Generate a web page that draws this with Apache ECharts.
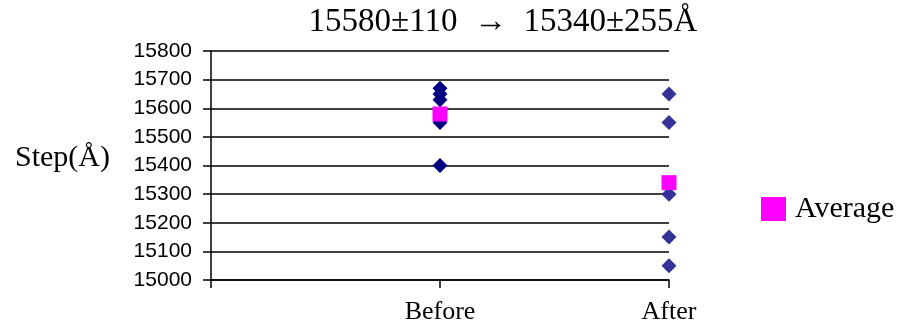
<!DOCTYPE html>
<html>
<head>
<meta charset="utf-8">
<script src="https://cdn.jsdelivr.net/npm/echarts@6/dist/echarts.min.js"></script>
<style>
  html, body { margin: 0; padding: 0; background: #fff; }
  #chart { width: 904px; height: 332px; }
</style>
</head>
<body>
<div id="chart"></div>
<script>
// Step heights measured before and after treatment, with their averages
const categories = ['Before', 'After'];
const beforeValues = [15670, 15650, 15630, 15550, 15400];
const afterValues = [15650, 15550, 15300, 15150, 15050];
const averageValues = [15580, 15340];
const yTicks = [15000, 15100, 15200, 15300, 15400, 15500, 15600, 15700, 15800];

const serif = '"Liberation Serif", "Times New Roman", serif';
const sans = '"Liberation Sans", Arial, sans-serif';

const chart = echarts.init(document.getElementById('chart'), null, { renderer: 'canvas' });

chart.setOption({
  animation: false,
  backgroundColor: '#ffffff',
  title: [
    {
      text: '15580\u00b1110  \u2192  15340\u00b1255\u00c5',
      left: 498,
      top: 1,
      textAlign: 'center',
      textStyle: { fontFamily: serif, fontSize: 33, fontWeight: 'normal', color: '#000' }
    },
    {
      text: 'Step(\u00c5)',
      left: 10,
      top: 138,
      textStyle: { fontFamily: serif, fontSize: 30, fontWeight: 'normal', color: '#000' }
    }
  ],
  legend: {
    data: ['Average'],
    left: 756,
    top: 189,
    icon: 'rect',
    itemWidth: 25,
    itemHeight: 24,
    itemGap: 14,
    textStyle: { fontFamily: serif, fontSize: 30, color: '#000', padding: [0, 0, 0, 4] }
  },
  grid: { left: 211, right: 235, top: 51, bottom: 52, containLabel: false },
  xAxis: {
    type: 'value',
    min: 0,
    max: categories.length,
    interval: 1,
    splitLine: { show: false },
    axisLine: { show: true, lineStyle: { color: '#000', width: 1.5 } },
    axisTick: { show: true, inside: false, length: 8, lineStyle: { color: '#000', width: 1.5 } },
    axisLabel: {
      margin: 19,
      fontFamily: serif,
      fontSize: 26,
      color: '#000',
      formatter: function (v) { return v >= 1 ? categories[v - 1] : ''; }
    }
  },
  yAxis: {
    type: 'value',
    min: yTicks[0],
    max: yTicks[yTicks.length - 1],
    interval: 100,
    axisLine: { show: true, lineStyle: { color: '#000', width: 1.5 } },
    axisTick: { show: true, inside: false, length: 8, lineStyle: { color: '#000', width: 1.5 } },
    splitLine: { show: true, lineStyle: { color: '#000', width: 1.5 } },
    axisLabel: {
      margin: 19,
      fontFamily: sans,
      fontSize: 21,
      color: '#000',
      formatter: function (v) { return String(v); }
    }
  },
  series: [
    {
      name: 'Before',
      type: 'scatter',
      symbol: 'diamond',
      symbolSize: 15,
      clip: false,
      itemStyle: { color: '#000080', opacity: 1 },
      data: beforeValues.map(function (v) { return [1, v]; })
    },
    {
      name: 'After',
      type: 'scatter',
      symbol: 'diamond',
      symbolSize: 15,
      clip: false,
      itemStyle: { color: '#333399', opacity: 1 },
      data: afterValues.map(function (v) { return [2, v]; })
    },
    {
      name: 'Average',
      type: 'scatter',
      symbol: 'rect',
      symbolSize: 15,
      clip: false,
      z: 5,
      itemStyle: { color: '#ff00ff', opacity: 1 },
      data: averageValues.map(function (v, i) { return [i + 1, v]; })
    }
  ]
});
</script>
</body>
</html>
